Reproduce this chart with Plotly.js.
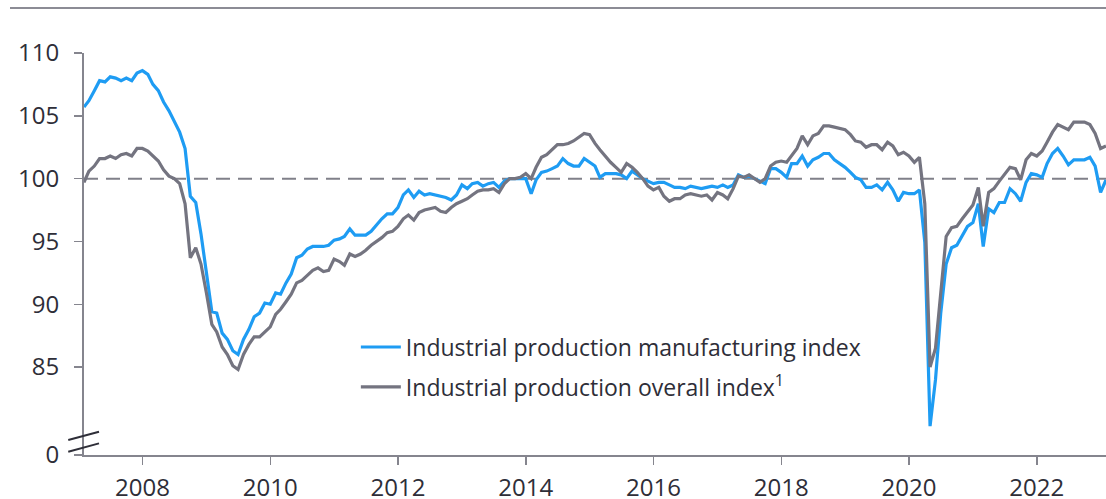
<!DOCTYPE html>
<html>
<head>
<meta charset="utf-8">
<script src="https://cdn.plot.ly/plotly-3.0.1.min.js"></script>
<style>
html,body{margin:0;padding:0;background:#fff;}
#chart{width:1106px;height:499px;}
</style>
</head>
<body>
<div id="chart"></div>
<script>
// Monthly series, first month = February 2007
const startYear = 2007;
const startMonth = 2;

const manufacturing = [
105.7,106.2,107.0,107.8,107.7,108.1,108.0,107.8,108.0,107.8,108.4,108.6,108.3,107.5,107.0,106.1,105.4,104.6,103.7,102.4,
98.6,98.1,95.6,92.5,89.4,89.3,87.7,87.2,86.3,86.0,87.2,88.0,89.0,89.3,90.1,90.0,90.9,90.8,91.7,92.4,
93.7,93.9,94.4,94.6,94.6,94.6,94.7,95.1,95.2,95.4,96.0,95.5,95.5,95.5,95.8,96.3,96.8,97.2,97.2,97.7,
98.7,99.1,98.5,99.0,98.7,98.8,98.7,98.6,98.5,98.3,98.7,99.5,99.2,99.6,99.7,99.4,99.6,99.7,99.3,99.8,
100.0,100.0,100.0,100.0,98.8,99.9,100.5,100.6,100.8,101.0,101.6,101.2,101.0,101.0,101.6,101.3,101.0,100.1,100.4,100.4,
100.4,100.3,100.0,100.6,100.3,100.0,99.8,99.6,99.7,99.7,99.5,99.3,99.3,99.2,99.4,99.3,99.2,99.3,99.4,99.3,
99.5,99.3,99.5,100.3,100.1,100.2,100.0,99.8,99.6,100.8,100.8,100.5,100.1,101.2,101.2,101.8,101.0,101.5,101.7,102.0,
102.0,101.5,101.2,100.9,100.5,100.1,99.9,99.3,99.3,99.5,99.1,99.7,99.1,98.2,98.9,98.8,98.8,99.1,94.9,80.3,
84.0,89.3,93.2,94.5,94.7,95.5,96.2,96.5,98.0,94.6,97.6,97.3,98.1,98.1,99.2,98.8,98.2,99.7,100.4,100.3,
100.1,101.2,102.0,102.4,101.8,101.1,101.5,101.5,101.5,101.7,101.0,98.9,99.9
];

const overall = [
99.7,100.6,101.0,101.6,101.6,101.8,101.6,101.9,102.0,101.8,102.4,102.4,102.2,101.8,101.4,100.7,100.2,100.0,99.6,98.0,
93.7,94.5,93.2,90.9,88.4,87.8,86.6,86.0,85.1,84.8,86.0,86.8,87.4,87.4,87.8,88.2,89.2,89.6,90.2,90.8,
91.7,91.9,92.3,92.7,92.9,92.6,92.7,93.6,93.4,93.1,94.0,93.8,94.0,94.3,94.7,95.0,95.3,95.7,95.8,96.2,
96.8,97.1,96.7,97.3,97.5,97.6,97.7,97.4,97.3,97.7,98.0,98.2,98.4,98.7,99.0,99.1,99.1,99.2,98.9,99.6,
100.0,100.0,100.1,100.4,100.0,100.9,101.7,101.9,102.3,102.7,102.7,102.8,103.0,103.3,103.6,103.5,102.8,102.3,101.8,101.3,
100.9,100.5,101.2,100.9,100.5,100.0,99.4,99.1,99.3,98.6,98.2,98.4,98.4,98.7,98.8,98.7,98.6,98.7,98.3,98.9,
98.7,98.4,99.2,100.2,100.1,100.3,100.0,99.7,100.0,101.0,101.3,101.4,101.3,101.8,102.4,103.4,102.7,103.4,103.6,104.2,
104.2,104.1,104.0,103.9,103.5,103.0,102.9,102.5,102.7,102.7,102.3,102.9,102.6,101.9,102.1,101.8,101.3,101.7,98.0,85.0,
86.5,91.0,95.4,96.1,96.2,96.8,97.3,97.9,99.3,96.2,98.9,99.2,99.8,100.3,100.9,100.8,99.9,101.5,102.0,101.8,
102.2,102.9,103.7,104.3,104.1,103.9,104.5,104.5,104.5,104.3,103.6,102.4,102.6
];

const seriesNames = ['Industrial production manufacturing index', 'Industrial production overall index<sup>1</sup>'];
const yTickValues = [78, 85, 90, 95, 100, 105, 110];
const yTickLabels = ['0', '85', '90', '95', '100', '105', '110'];
const xTickYears = ['2008','2010','2012','2014','2016','2018','2020','2022'];
const referenceLevel = 100;

function monthDates(n){
  const out = [];
  for (let i = 0; i < n; i++){
    const m0 = (startMonth - 1) + i;
    const y = startYear + Math.floor(m0 / 12);
    const m = (m0 % 12) + 1;
    out.push(y + '-' + String(m).padStart(2,'0') + '-01');
  }
  return out;
}
const dates = monthDates(manufacturing.length);

const textColor = '#2e2e38';
const axisColor = '#85858e';
const fontFamily = 'Open Sans, Noto Sans, sans-serif';

const traces = [
  {x: dates, y: manufacturing, type: 'scatter', mode: 'lines', name: seriesNames[0],
   legendgroup: 'a', line: {color: '#1e9cf3', width: 3.2}},
  {x: dates, y: overall, type: 'scatter', mode: 'lines', name: seriesNames[1],
   legendgroup: 'b', line: {color: '#747480', width: 3.2}}
];

const layout = {
  width: 1106, height: 499,
  margin: {l: 84, r: 0, t: 53, b: 44},
  paper_bgcolor: '#fff', plot_bgcolor: '#fff',
  font: {family: fontFamily, color: textColor, size: 20},
  showlegend: true,
  legend: {x: 0.266, y: 0.322, xanchor: 'left', yanchor: 'top',
           font: {size: 23, color: textColor, family: fontFamily},
           tracegroupgap: 7, bgcolor: 'rgba(0,0,0,0)', itemwidth: 40},
  xaxis: {
    type: 'date',
    range: [dates[0], dates[dates.length-1]],
    tickvals: xTickYears.map(y => y + '-01-01'),
    ticktext: xTickYears,
    showgrid: false, zeroline: false,
    showline: true, linecolor: axisColor, linewidth: 2,
    ticks: 'outside', ticklen: 8, tickwidth: 1.5, tickcolor: axisColor,
    tickfont: {size: 24, color: textColor},
    ticklabelstandoff: 2,
    fixedrange: true
  },
  yaxis: {
    range: [78, 110],
    tickvals: yTickValues, ticktext: yTickLabels,
    showgrid: false, zeroline: false,
    showline: true, linecolor: axisColor, linewidth: 2,
    ticks: 'outside', ticklen: 8, tickwidth: 1.5, tickcolor: axisColor,
    tickfont: {size: 24, color: textColor},
    ticklabelstandoff: 10,
    fixedrange: true
  },
  shapes: [
    {type: 'line', xref: 'paper', yref: 'y', x0: 0, x1: 1, y0: referenceLevel, y1: referenceLevel,
     line: {color: '#808089', width: 2, dash: '14px,8px'}, layer: 'below'},
    {type: 'line', xref: 'paper', yref: 'paper', x0: -0.0724, x1: 1, y0: 1.112, y1: 1.112,
     line: {color: '#8c8c95', width: 2}},
    {type: 'line', xref: 'paper', yref: 'paper', x0: -0.0154, x1: 0.0147, y0: 0.0373, y1: 0.058,
     line: {color: '#2e2e38', width: 2}},
    {type: 'line', xref: 'paper', yref: 'paper', x0: -0.0154, x1: 0.0147, y0: 0.0083, y1: 0.029,
     line: {color: '#2e2e38', width: 2}}
  ]
};

Plotly.newPlot('chart', traces, layout, {displayModeBar: false, staticPlot: true});
</script>
</body>
</html>
